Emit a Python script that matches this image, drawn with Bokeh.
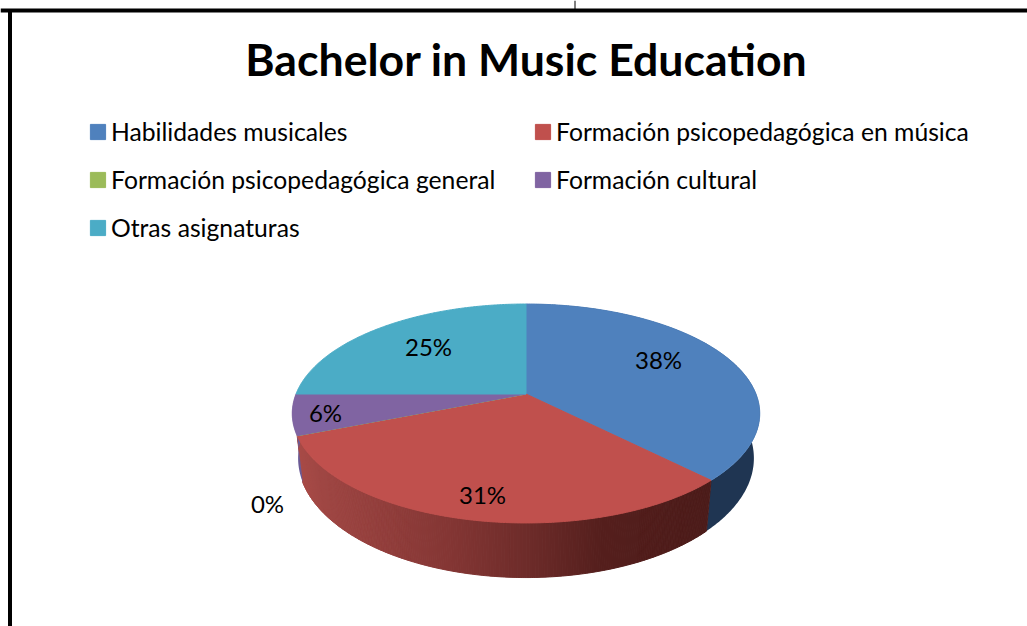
import numpy as np
from bokeh.core.properties import value
from bokeh.embed import file_html
from bokeh.models import ColumnDataSource, Legend, LegendItem, Range1d
from bokeh.plotting import figure
from bokeh.resources import INLINE

TITLE = "Bachelor in Music Education"
categories = ["Habilidades musicales", "Formación psicopedagógica en música",
              "Formación psicopedagógica general", "Formación cultural", "Otras asignaturas"]
percent = [37.6, 31.4, 0, 6, 25]
colors = ["#4F81BD", "#C0504D", "#9BBB59", "#8064A2", "#4BACC6"]
wall_colors = ["#1F3552", None, None, "#6A5A95", None]
labels = ["38%", "31%", "0%", "6%", "25%"]
label_x = [658, 482, 267, 325, 428]
label_y = [358.5, 493.5, 502.5, 411.5, 345.5]

FONT = value("Lato")
CX, CY, RX, RY, K = 525.5, 393.5, 230.0, 106.0, 0.178
W, H = 1027, 626


def top_point(theta):
    xu, yu = np.sin(theta), np.cos(theta)
    d = 1 + K * yu
    return RX * xu / d, -RY * yu / d


def project(theta, lower=False):
    x, y = top_point(theta)
    if lower:
        return CX + 0.975 * x, CY + 43 + 1.09 * y
    return CX + x, CY + y


def red_shade(x):
    return (np.interp(x, [296, 320, 450, 526, 600, 712], [170, 160, 132, 110, 85, 76]),
            np.interp(x, [296, 320, 450, 526, 600, 712], [76, 71, 54, 44, 31, 28]),
            np.interp(x, [296, 320, 450, 526, 600, 712], [72, 68, 52, 42, 29, 26]))


p = figure(width=W, height=H, output_backend="svg", toolbar_location=None,
           x_range=Range1d(0, W), y_range=Range1d(H, 0), min_border=0,
           background_fill_color="white", border_fill_color="white", outline_line_color=None)
p.axis.visible = False
p.grid.visible = False

# Frame lines of the surrounding page
p.line([0, W], [10, 10], line_color="black", line_width=4)
p.line([9.5, 9.5], [10, H], line_color="black", line_width=4)
p.line([574.5, 574.5], [0, 10], line_color="black", line_width=1)

edges = np.cumsum([0] + percent) / 100 * 2 * np.pi

# Walls
for i, (a, b) in enumerate(zip(edges[:-1], edges[1:])):
    if b - a <= 0 or i in (4,):
        continue
    t = np.linspace(a, b, 240)
    if i == 1:
        xs, ys, cs = [], [], []
        for u, v in zip(t[:-1], t[1:]):
            pts = [project(u), project(v), project(v, True), project(u, True)]
            xs.append([q[0] for q in pts])
            ys.append([q[1] for q in pts])
            r, g, bl = red_shade(np.mean(xs[-1]))
            cs.append("#%02x%02x%02x" % (int(r), int(g), int(bl)))
        p.patches("x", "y", fill_color="c", line_color="c", line_width=1,
                  source=ColumnDataSource(dict(x=xs, y=ys, c=cs)))
    else:
        x1, y1 = project(t)
        x2, y2 = project(t[::-1], True)
        p.patch(np.r_[x1, x2], np.r_[y1, y2], fill_color=wall_colors[i], line_color=None)

# Top faces
items = []
for i, (a, b) in enumerate(zip(edges[:-1], edges[1:])):
    t = np.linspace(a, b, 200)
    x, y = project(t)
    r = p.patch(np.r_[CX, x], np.r_[CY, y], fill_color=colors[i], line_color=colors[i],
                line_width=1)
    items.append(LegendItem(label=categories[i], renderers=[r]))

p.text(label_x, label_y, text=labels, text_font=FONT, text_font_size="24px",
       text_color="black", text_align="center", text_baseline="middle")
p.text([526], [58], text=[TITLE], text_font=FONT, text_font_style="bold",
       text_font_size="44.6px", text_color="black", text_align="center", text_baseline="middle")

for col, xloc, top in ((0, 88, 117), (1, 533, 117)):
    legend = Legend(items=items[col::2], orientation="vertical", location=(xloc, H - top - (2 - col) * 48 - 29),
                    label_text_font="Lato", label_text_font_size="24.7px",
                    label_text_color="black", glyph_width=19, glyph_height=19,
                    label_standoff=4, spacing=19, background_fill_alpha=0,
                    border_line_alpha=0, margin=0, padding=0, label_height=28)
    p.add_layout(legend, "center")

open("out.html", "w").write(file_html(p, INLINE))
